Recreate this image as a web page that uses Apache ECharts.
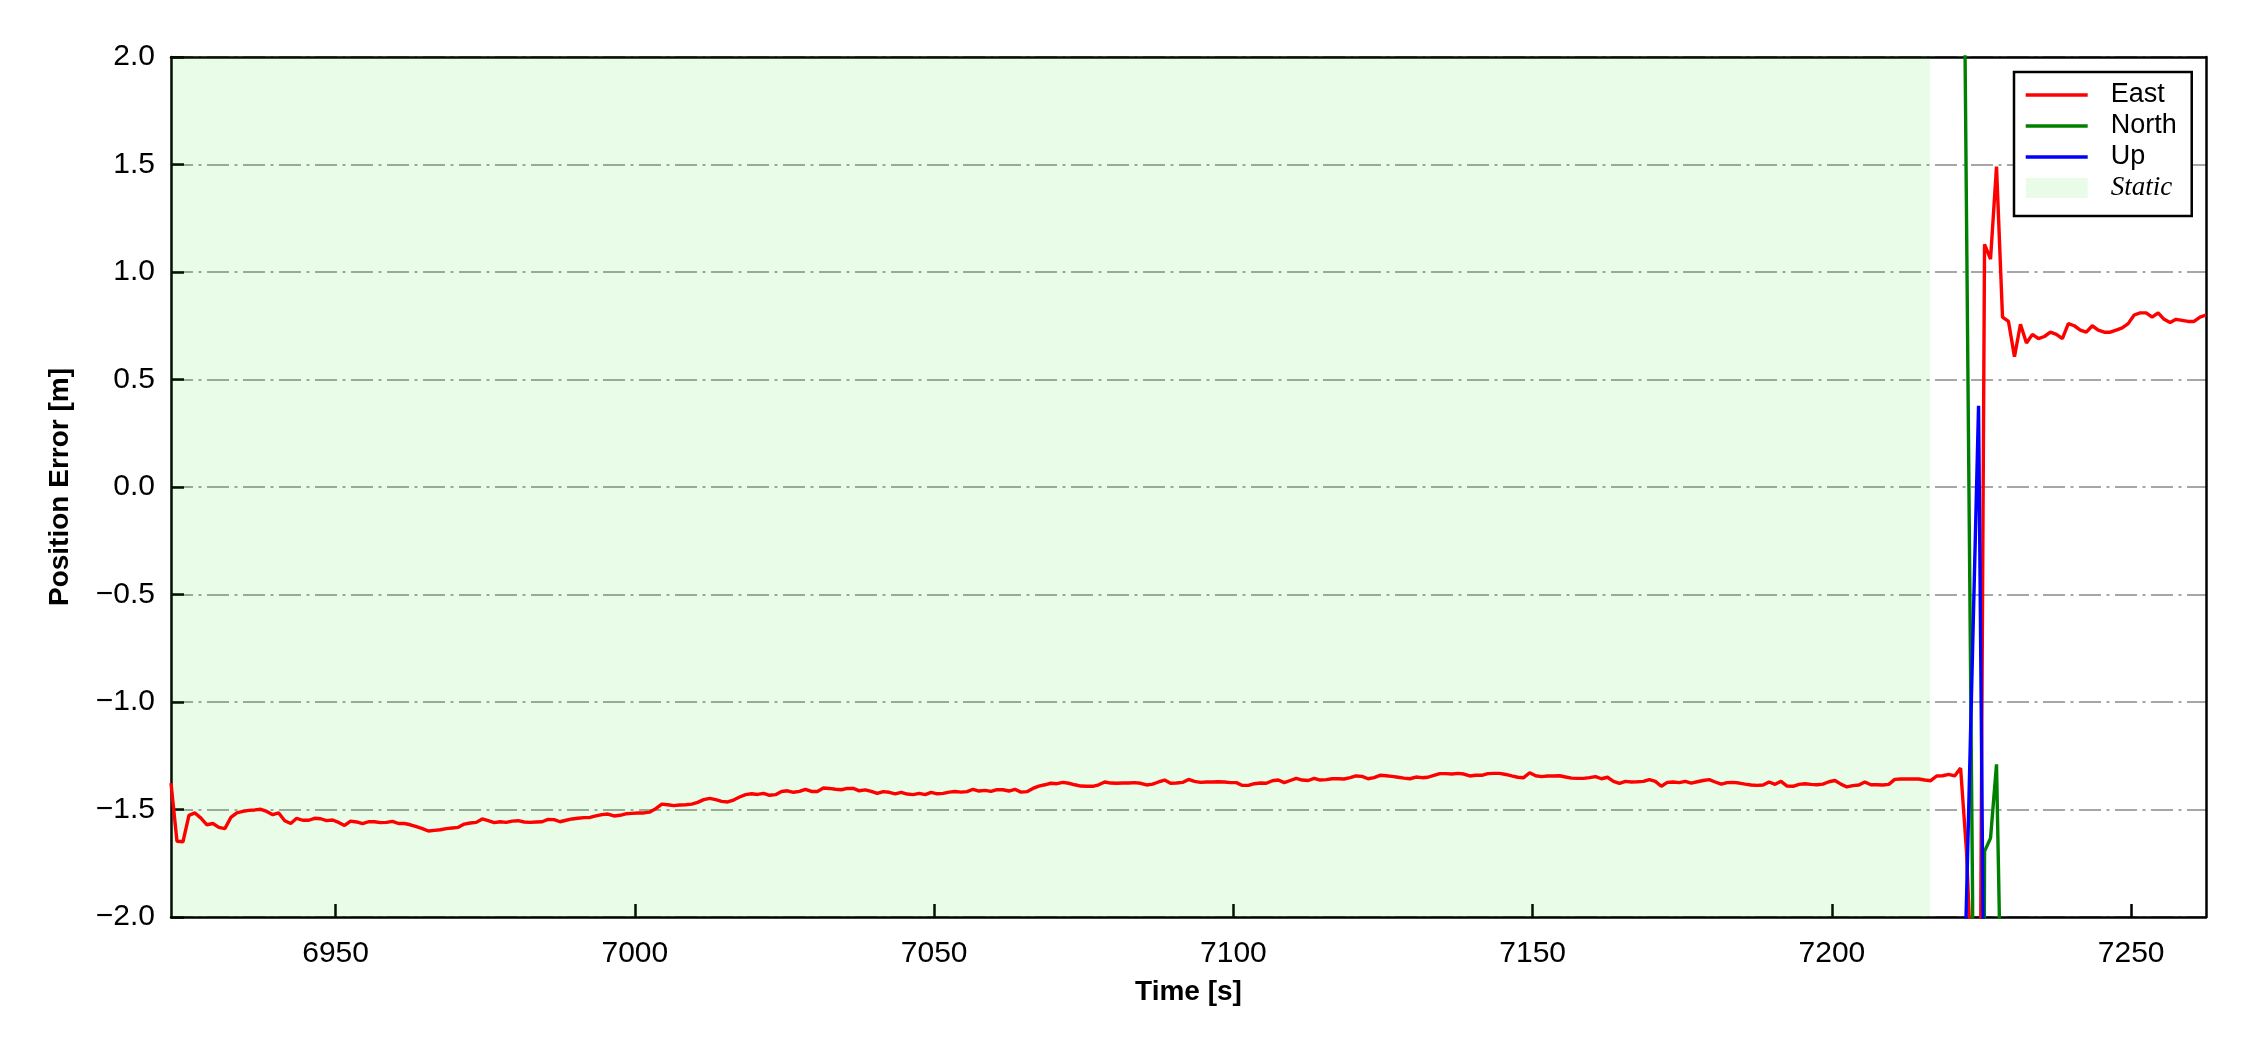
<!DOCTYPE html>
<html><head><meta charset="utf-8">
<script src="https://cdn.jsdelivr.net/npm/echarts@6/dist/echarts.min.js"></script>
<style>html,body{margin:0;padding:0;background:#fff}#chart{width:2250px;height:1050px}</style>
</head><body><div id="chart"></div>
<script>
// ---- data ----
const timeStart = 6922.5;   // s, first sample
const timeStep = 1;         // s, 1 Hz samples
const timeRange = [6922.5, 7262.5];
const staticPeriod = [6922.5, 7216.4];
const xTickValues = [6950, 7000, 7050, 7100, 7150, 7200, 7250];
const yRange = [-2, 2];
const yStep = 0.5;

const eastValues = [
 -1.377,-1.648,-1.650,-1.527,-1.516,-1.540,-1.571,-1.565,-1.583,-1.589,
 -1.537,-1.516,-1.509,-1.504,-1.502,-1.499,-1.509,-1.524,-1.516,-1.552,
 -1.565,-1.541,-1.550,-1.550,-1.541,-1.543,-1.552,-1.549,-1.560,-1.574,
 -1.554,-1.558,-1.566,-1.557,-1.557,-1.561,-1.560,-1.555,-1.565,-1.565,
 -1.571,-1.580,-1.589,-1.600,-1.597,-1.594,-1.589,-1.586,-1.583,-1.568,
 -1.563,-1.560,-1.544,-1.552,-1.561,-1.557,-1.560,-1.554,-1.552,-1.558,
 -1.560,-1.558,-1.557,-1.546,-1.547,-1.557,-1.550,-1.544,-1.541,-1.538,
 -1.537,-1.530,-1.524,-1.521,-1.530,-1.527,-1.520,-1.518,-1.516,-1.516,
 -1.512,-1.496,-1.475,-1.478,-1.482,-1.479,-1.478,-1.475,-1.467,-1.454,
 -1.448,-1.454,-1.462,-1.465,-1.456,-1.442,-1.431,-1.427,-1.430,-1.425,
 -1.434,-1.431,-1.416,-1.413,-1.420,-1.416,-1.406,-1.416,-1.416,-1.400,
 -1.402,-1.406,-1.408,-1.402,-1.402,-1.413,-1.409,-1.416,-1.425,-1.417,
 -1.420,-1.427,-1.420,-1.428,-1.431,-1.425,-1.431,-1.420,-1.427,-1.425,
 -1.419,-1.416,-1.419,-1.417,-1.406,-1.414,-1.411,-1.416,-1.408,-1.408,
 -1.414,-1.406,-1.419,-1.417,-1.402,-1.391,-1.385,-1.378,-1.380,-1.374,
 -1.378,-1.385,-1.391,-1.392,-1.392,-1.385,-1.372,-1.377,-1.378,-1.377,
 -1.377,-1.375,-1.378,-1.386,-1.382,-1.372,-1.363,-1.378,-1.377,-1.374,
 -1.360,-1.369,-1.374,-1.372,-1.372,-1.371,-1.372,-1.375,-1.375,-1.388,
 -1.388,-1.380,-1.377,-1.378,-1.366,-1.363,-1.375,-1.365,-1.355,-1.363,
 -1.365,-1.355,-1.363,-1.361,-1.357,-1.357,-1.358,-1.352,-1.344,-1.346,
 -1.357,-1.352,-1.341,-1.343,-1.346,-1.350,-1.354,-1.357,-1.349,-1.352,
 -1.350,-1.341,-1.333,-1.333,-1.335,-1.332,-1.335,-1.344,-1.341,-1.341,
 -1.333,-1.332,-1.332,-1.337,-1.344,-1.350,-1.352,-1.329,-1.343,-1.347,
 -1.344,-1.344,-1.343,-1.349,-1.354,-1.355,-1.355,-1.352,-1.347,-1.357,
 -1.350,-1.369,-1.378,-1.369,-1.372,-1.371,-1.369,-1.361,-1.369,-1.392,
 -1.374,-1.372,-1.375,-1.369,-1.377,-1.371,-1.365,-1.361,-1.372,-1.382,
 -1.375,-1.374,-1.377,-1.382,-1.386,-1.388,-1.386,-1.372,-1.383,-1.369,
 -1.391,-1.392,-1.383,-1.380,-1.383,-1.385,-1.382,-1.371,-1.365,-1.382,
 -1.395,-1.389,-1.386,-1.372,-1.385,-1.385,-1.386,-1.383,-1.360,-1.358,
 -1.358,-1.358,-1.358,-1.363,-1.366,-1.344,-1.343,-1.337,-1.344,-1.307,
 -1.70,-2.4,-3.8,1.129,1.06,1.49,0.79,0.77,0.606,0.757,
 0.67,0.71,0.69,0.70,0.72,0.71,0.69,0.76,0.75,0.73,
 0.72,0.75,0.73,0.72,0.72,0.73,0.74,0.76,0.80,0.81,
 0.81,0.79,0.81,0.78,0.765,0.78,0.775,0.77,0.77,0.79,0.80
];
const northStartIndex = 299;
const northValues = [4.34, 1.22, -1.9, -10.9, -1.695, -1.633, -1.29, -2.77];
const upStartIndex = 299;
const upValues = [-3.0, -1.9, -0.76, 0.378, -2.8];

// ---- build ----
const toPairs = (vals, start) => vals.map((v, i) => [timeStart + (start + i) * timeStep, v]);
const FONT = 'Liberation Sans';
const fmtY = v => (v < 0 ? '\u2212' : '') + Math.abs(v).toFixed(1);
const fmtX = v => String(Math.round(v));
const LW = 3.4;
const lineLegend = (name, color) => ({
  name, itemStyle: {opacity: 0, color: 'rgba(0,0,0,0)', borderWidth: 0},
  lineStyle: {color, width: LW, opacity: 1}
});

const chart = echarts.init(document.getElementById('chart'), null, {renderer: 'canvas'});
chart.setOption({
  animation: false,
  backgroundColor: '#fff',
  grid: {left: 171, right: 44, top: 57, bottom: 133, containLabel: false},
  legend: {
    orient: 'vertical', left: 2014, top: 72,
    padding: [9, 15, 14, 10],
    itemWidth: 62, itemHeight: 20, itemGap: 3,
    backgroundColor: '#fff', borderColor: '#000', borderWidth: 2.5, borderRadius: 0,
    selectedMode: false,
    textStyle: {fontFamily: FONT, fontSize: 27, color: '#000', lineHeight: 28, padding: [0, 0, 0, 18]},
    data: [
      lineLegend('East', '#ff0000'), lineLegend('North', '#008000'), lineLegend('Up', '#0000ff'),
      {name: 'Static', icon: 'rect', itemStyle: {color: '#e8fce8', borderWidth: 0},
       textStyle: {fontFamily: 'Liberation Serif', fontStyle: 'italic', fontSize: 27, color: '#000', lineHeight: 28, padding: [0, 0, 0, 18]}}
    ]
  },
  xAxis: [{
    type: 'value', min: timeRange[0], max: timeRange[1], position: 'bottom',
    name: 'Time [s]', nameLocation: 'middle', nameGap: 61,
    nameTextStyle: {fontFamily: FONT, fontSize: 28, fontWeight: 'bold', color: '#000'},
    axisLine: {show: true, onZero: false, lineStyle: {color: '#000', width: 2.5}},
    axisTick: {show: true, inside: true, length: 13, customValues: xTickValues, lineStyle: {color: '#000', width: 2.5}},
    axisLabel: {show: true, customValues: xTickValues, formatter: fmtX, margin: 22, fontFamily: FONT, fontSize: 30, color: '#000'},
    splitLine: {show: false}
  }, {
    type: 'value', min: timeRange[0], max: timeRange[1], position: 'top',
    axisLine: {show: true, onZero: false, lineStyle: {color: '#000', width: 2.5}},
    axisTick: {show: false}, axisLabel: {show: false}, splitLine: {show: false}
  }],
  yAxis: [{
    type: 'value', min: yRange[0], max: yRange[1], interval: yStep, position: 'left',
    name: 'Position Error [m]', nameLocation: 'middle', nameRotate: 90, nameGap: 97,
    nameTextStyle: {fontFamily: FONT, fontSize: 28, fontWeight: 'bold', color: '#000'},
    axisLine: {show: true, onZero: false, lineStyle: {color: '#000', width: 2.5}},
    axisTick: {show: true, inside: true, length: 13, lineStyle: {color: '#000', width: 2.5}},
    axisLabel: {show: true, margin: 16, formatter: fmtY, fontFamily: FONT, fontSize: 30, color: '#000'},
    splitLine: {show: true, lineStyle: {color: '#a6a6a6', width: 2.2, type: [22, 5.5, 3, 5.5]}}
  }, {
    type: 'value', min: yRange[0], max: yRange[1], interval: yStep, position: 'right',
    axisLine: {show: true, onZero: false, lineStyle: {color: '#000', width: 2.5}},
    axisTick: {show: false}, axisLabel: {show: false}, splitLine: {show: false}
  }],
  series: [
    {
      name: 'Static', type: 'line', data: [], symbol: 'none',
      itemStyle: {color: '#e8fce8'}, lineStyle: {color: '#e8fce8'},
      markArea: {silent: true, itemStyle: {color: 'rgba(0,220,0,0.09)'},
        data: [[{xAxis: staticPeriod[0]}, {xAxis: staticPeriod[1]}]]}
    },
    {name: 'East', type: 'line', data: toPairs(eastValues, 0), symbol: 'none', showSymbol: false,
     clip: true, itemStyle: {color: '#ff0000'}, lineStyle: {color: '#ff0000', width: LW}},
    {name: 'North', type: 'line', data: toPairs(northValues, northStartIndex), symbol: 'none', showSymbol: false,
     clip: true, itemStyle: {color: '#008000'}, lineStyle: {color: '#008000', width: LW}},
    {name: 'Up', type: 'line', data: toPairs(upValues, upStartIndex), symbol: 'none', showSymbol: false,
     clip: true, itemStyle: {color: '#0000ff'}, lineStyle: {color: '#0000ff', width: LW}}
  ]
});
</script></body></html>
